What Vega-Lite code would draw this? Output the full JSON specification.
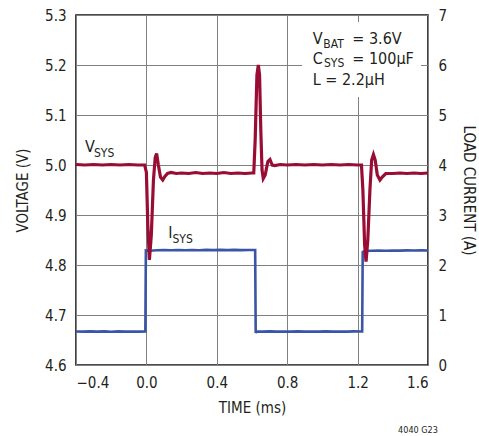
{
  "$schema": "https://vega.github.io/schema/vega-lite/v6.json",
  "width": 352,
  "height": 350,
  "autosize": {"type": "none"},
  "padding": {"left": 76, "top": 15, "right": 51, "bottom": 71},
  "background": "white",
  "config": {
    "view": {"stroke": "#111111", "strokeWidth": 1.6},
    "font": "Liberation Sans Narrow, DejaVu Sans Condensed, Arial Narrow, sans-serif",
    "axis": {
      "domain": false, "ticks": false, "labelFontSize": 15, "titleFontSize": 15,
      "labelColor": "#231f20", "titleColor": "#231f20", "titleFontWeight": "normal",
      "labelFont": "Liberation Sans Narrow, DejaVu Sans Condensed, sans-serif",
      "titleFont": "Liberation Sans Narrow, DejaVu Sans Condensed, sans-serif",
      "gridColor": "#808080", "gridWidth": 1, "gridOpacity": 1, "labelPadding": 10
    },
    "text": {"font": "Liberation Sans Narrow, DejaVu Sans Condensed, sans-serif", "color": "#231f20"}
  },
  "datasets": {
    "isys": [
      {"t": -0.4, "a": 0.67}, {"t": -0.36, "a": 0.667}, {"t": -0.32, "a": 0.673}, {"t": -0.28, "a": 0.668},
      {"t": -0.24, "a": 0.672}, {"t": -0.2, "a": 0.666}, {"t": -0.16, "a": 0.672}, {"t": -0.12, "a": 0.668},
      {"t": -0.08, "a": 0.671}, {"t": -0.04, "a": 0.667}, {"t": -0.006, "a": 0.67},
      {"t": -0.003, "a": 2.29}, {"t": 0.02, "a": 2.285}, {"t": 0.06, "a": 2.295}, {"t": 0.1, "a": 2.3},
      {"t": 0.14, "a": 2.294}, {"t": 0.18, "a": 2.301}, {"t": 0.22, "a": 2.296}, {"t": 0.26, "a": 2.301},
      {"t": 0.3, "a": 2.296}, {"t": 0.34, "a": 2.302}, {"t": 0.38, "a": 2.297}, {"t": 0.42, "a": 2.302},
      {"t": 0.46, "a": 2.298}, {"t": 0.5, "a": 2.302}, {"t": 0.54, "a": 2.297}, {"t": 0.58, "a": 2.301},
      {"t": 0.618, "a": 2.3},
      {"t": 0.621, "a": 0.64}, {"t": 0.625, "a": 0.67}, {"t": 0.66, "a": 0.668}, {"t": 0.7, "a": 0.672},
      {"t": 0.74, "a": 0.667}, {"t": 0.78, "a": 0.671}, {"t": 0.82, "a": 0.668}, {"t": 0.86, "a": 0.672},
      {"t": 0.9, "a": 0.668}, {"t": 0.94, "a": 0.671}, {"t": 0.98, "a": 0.667}, {"t": 1.02, "a": 0.672},
      {"t": 1.06, "a": 0.668}, {"t": 1.1, "a": 0.671}, {"t": 1.14, "a": 0.668}, {"t": 1.18, "a": 0.672},
      {"t": 1.226, "a": 0.67},
      {"t": 1.229, "a": 2.26}, {"t": 1.24, "a": 2.28}, {"t": 1.28, "a": 2.285}, {"t": 1.32, "a": 2.289},
      {"t": 1.36, "a": 2.286}, {"t": 1.4, "a": 2.291}, {"t": 1.44, "a": 2.288}, {"t": 1.48, "a": 2.292},
      {"t": 1.52, "a": 2.289}, {"t": 1.56, "a": 2.293}, {"t": 1.6, "a": 2.29}
    ],
    "vsys": [
      {"t": -0.4, "v": 5.001}, {"t": -0.35, "v": 5.0}, {"t": -0.3, "v": 5.001}, {"t": -0.25, "v": 5.0},
      {"t": -0.2, "v": 5.001}, {"t": -0.15, "v": 5.0}, {"t": -0.1, "v": 5.001}, {"t": -0.05, "v": 5.0},
      {"t": -0.01, "v": 5.0}, {"t": 0.0, "v": 4.985}, {"t": 0.008, "v": 4.88}, {"t": 0.017, "v": 4.81},
      {"t": 0.028, "v": 4.86}, {"t": 0.04, "v": 4.97}, {"t": 0.05, "v": 5.015}, {"t": 0.058, "v": 5.023},
      {"t": 0.068, "v": 5.0}, {"t": 0.08, "v": 4.976}, {"t": 0.093, "v": 4.97}, {"t": 0.105, "v": 4.977},
      {"t": 0.12, "v": 4.983}, {"t": 0.14, "v": 4.985}, {"t": 0.17, "v": 4.983}, {"t": 0.2, "v": 4.984},
      {"t": 0.24, "v": 4.983}, {"t": 0.28, "v": 4.985}, {"t": 0.32, "v": 4.983}, {"t": 0.36, "v": 4.984},
      {"t": 0.4, "v": 4.983}, {"t": 0.44, "v": 4.985}, {"t": 0.48, "v": 4.983}, {"t": 0.52, "v": 4.984},
      {"t": 0.56, "v": 4.983}, {"t": 0.6, "v": 4.984}, {"t": 0.61, "v": 4.984},
      {"t": 0.618, "v": 5.05}, {"t": 0.628, "v": 5.18}, {"t": 0.636, "v": 5.2}, {"t": 0.643, "v": 5.18},
      {"t": 0.65, "v": 5.07}, {"t": 0.657, "v": 4.99}, {"t": 0.664, "v": 4.973}, {"t": 0.675, "v": 4.98},
      {"t": 0.69, "v": 5.007}, {"t": 0.702, "v": 5.011}, {"t": 0.715, "v": 5.0}, {"t": 0.73, "v": 4.999},
      {"t": 0.76, "v": 5.001}, {"t": 0.8, "v": 5.0}, {"t": 0.85, "v": 5.001}, {"t": 0.9, "v": 5.0},
      {"t": 0.95, "v": 5.001}, {"t": 1.0, "v": 5.0}, {"t": 1.05, "v": 5.001}, {"t": 1.1, "v": 5.0},
      {"t": 1.15, "v": 5.001}, {"t": 1.2, "v": 5.0}, {"t": 1.222, "v": 5.0},
      {"t": 1.23, "v": 4.95}, {"t": 1.24, "v": 4.84}, {"t": 1.248, "v": 4.807}, {"t": 1.258, "v": 4.85},
      {"t": 1.27, "v": 4.95}, {"t": 1.28, "v": 5.01}, {"t": 1.29, "v": 5.021}, {"t": 1.3, "v": 5.01},
      {"t": 1.312, "v": 4.98}, {"t": 1.327, "v": 4.97}, {"t": 1.34, "v": 4.976}, {"t": 1.36, "v": 4.983},
      {"t": 1.4, "v": 4.983}, {"t": 1.44, "v": 4.984}, {"t": 1.48, "v": 4.983}, {"t": 1.52, "v": 4.984},
      {"t": 1.56, "v": 4.983}, {"t": 1.6, "v": 4.984}
    ],
    "labels": [
      {"t": -0.349, "v": 5.026, "s": "V", "size": 16},
      {"t": -0.298, "v": 5.016, "s": "SYS", "size": 12},
      {"t": 0.124, "v": 4.854, "s": "I", "size": 16},
      {"t": 0.148, "v": 4.844, "s": "SYS", "size": 12},
      {"t": 0.945, "v": 5.242, "s": "V", "size": 16},
      {"t": 1.005, "v": 5.234, "s": "BAT", "size": 12},
      {"t": 1.17, "v": 5.242, "s": "= 3.6V", "size": 16},
      {"t": 0.945, "v": 5.203, "s": "C", "size": 16},
      {"t": 1.009, "v": 5.197, "s": "SYS", "size": 12},
      {"t": 1.17, "v": 5.203, "s": "= 100µF", "size": 16},
      {"t": 0.945, "v": 5.16, "s": "L = 2.2µH", "size": 16},
      {"t": 1.43, "v": 4.464, "s": "4040 G23", "size": 9}
    ],
    "box": [{"t1": 0.884, "t2": 1.56, "v1": 5.136, "v2": 5.286}]
  },
  "layer": [
    {
      "data": {"name": "isys"},
      "mark": {"type": "line", "color": "#3b55a6", "strokeWidth": 2.6, "interpolate": "linear"},
      "encoding": {
        "x": {"field": "t", "type": "quantitative", "scale": {"domain": [-0.4, 1.6], "nice": false},
              "axis": {"values": [-0.4, 0, 0.4, 0.8, 1.2, 1.6], "format": ".1f", "title": "TIME (ms)", "grid": true, "titlePadding": 10}},
        "y": {"field": "a", "type": "quantitative", "scale": {"domain": [0, 7], "nice": false},
              "axis": {"orient": "right", "values": [0, 1, 2, 3, 4, 5, 6, 7], "title": "LOAD CURRENT (A)", "grid": false, "titlePadding": 14}}
      }
    },
    {
      "layer": [
        {
          "data": {"name": "box"},
          "mark": {"type": "rect", "color": "white"},
          "encoding": {
            "x": {"field": "t1", "type": "quantitative", "scale": {"domain": [-0.4, 1.6], "nice": false}},
            "x2": {"field": "t2"},
            "y": {"field": "v1", "type": "quantitative", "scale": {"domain": [4.6, 5.3], "nice": false},
                  "axis": {"orient": "left", "values": [4.6, 4.7, 4.8, 4.9, 5.0, 5.1, 5.2, 5.3], "format": ".1f", "title": "VOLTAGE (V)", "grid": true, "titlePadding": 14}},
            "y2": {"field": "v2"}
          }
        },
        {
          "data": {"name": "vsys"},
          "mark": {"type": "line", "color": "#990d35", "strokeWidth": 3.2},
          "encoding": {
            "x": {"field": "t", "type": "quantitative"},
            "y": {"field": "v", "type": "quantitative"}
          }
        },
        {
          "data": {"name": "labels"},
          "mark": {"type": "text", "align": "left", "baseline": "alphabetic"},
          "encoding": {
            "x": {"field": "t", "type": "quantitative"},
            "y": {"field": "v", "type": "quantitative"},
            "text": {"field": "s"},
            "size": {"field": "size", "type": "quantitative", "scale": null}
          }
        }
      ]
    }
  ],
  "resolve": {"scale": {"y": "independent"}, "axis": {"y": "independent"}}
}
